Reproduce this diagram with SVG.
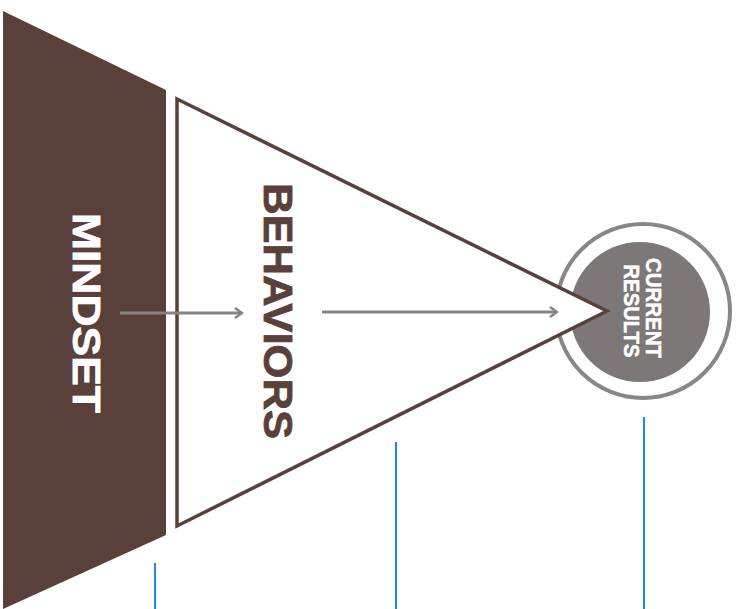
<svg xmlns="http://www.w3.org/2000/svg" width="737" height="609" viewBox="0 0 737 609">
<defs>
<style>
.lbl{font-family:"Liberation Sans",Arial,sans-serif;font-weight:bold;text-anchor:middle;dominant-baseline:central}
.conn{stroke:#878382;stroke-width:3;fill:none}
.guide{stroke:#1a8fd6;stroke-width:2}
</style>
<marker id="chev" viewBox="0 0 12 12" refX="10" refY="6" markerWidth="12" markerHeight="12" markerUnits="userSpaceOnUse" orient="auto">
<path d="M3,1 L10,6 L3,11" fill="none" stroke="#878382" stroke-width="2.5"/>
</marker>
</defs>
<rect width="737" height="609" fill="#ffffff"/>
<g id="mindset">
<polygon points="3,11 166,90 166,535 3,609" fill="#5a403a"/>
<text class="lbl" transform="translate(86,313) rotate(90)" font-size="39" fill="#ffffff" stroke="#ffffff" stroke-width="0.8" textLength="200" lengthAdjust="spacingAndGlyphs">MINDSET</text>
</g>
<g id="results">
<circle cx="643" cy="311" r="87" fill="none" stroke="#8a8685" stroke-width="4"/>
<circle cx="640" cy="312" r="70" fill="#7d7877"/>
<text class="lbl" transform="translate(653,308) rotate(90)" font-size="22" fill="#ffffff" stroke="#ffffff" stroke-width="0.5" textLength="100" lengthAdjust="spacingAndGlyphs">CURRENT</text>
<text class="lbl" transform="translate(631,311) rotate(90)" font-size="22" fill="#ffffff" stroke="#ffffff" stroke-width="0.5" textLength="93" lengthAdjust="spacingAndGlyphs">RESULTS</text>
</g>
<g id="behaviors">
<polygon points="177,99 607,311 177,526" fill="#ffffff" stroke="#5a403a" stroke-width="3.5" stroke-linejoin="miter"/>
<text class="lbl" transform="translate(278,311) rotate(90)" font-size="41" fill="#5a403a" stroke="#5a403a" stroke-width="0.8" textLength="256" lengthAdjust="spacingAndGlyphs">BEHAVIORS</text>
</g>
<g id="connectors">
<line class="conn" x1="120" y1="313" x2="242" y2="313" marker-end="url(#chev)"/>
<line class="conn" x1="322" y1="312" x2="557" y2="312" marker-end="url(#chev)"/>
<line class="guide" x1="155" y1="563" x2="155" y2="609"/>
<line class="guide" x1="396" y1="442" x2="396" y2="609"/>
<line class="guide" x1="644" y1="417" x2="644" y2="609"/>
</g>
</svg>
